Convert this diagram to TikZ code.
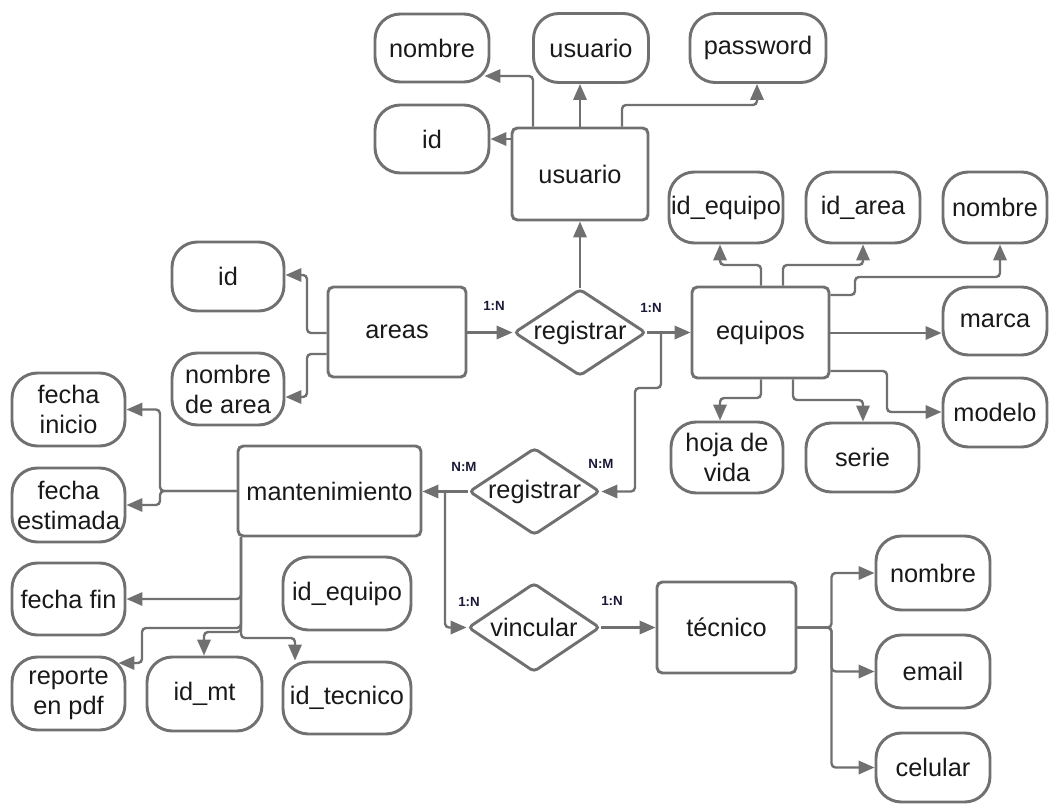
\documentclass[tikz,border=0pt]{standalone}
\usepackage{fontspec}
\setmainfont{Liberation Sans}
\usetikzlibrary{shapes.geometric,arrows.meta,calc}
\definecolor{lg}{RGB}{112,112,112}
\definecolor{lbl}{RGB}{25,25,55}
\definecolor{txt}{RGB}{25,25,25}
\begin{document}
\begin{tikzpicture}[x=0.75pt,y=-0.75pt,
  every node/.style={inner sep=0pt, align=center, font=\fontsize{19}{22.5}\selectfont, text=txt},
  sz/.style 2 args={minimum width=#1*0.75pt, minimum height=#2*0.75pt},
  attr/.style={draw=lg, line width=2.2pt, rounded corners=19pt},
  ent/.style={draw=lg, line width=2.2pt, rounded corners=4pt},
  rel/.style={draw=lg, line width=2.2pt, diamond, aspect=1.5, rounded corners=3pt},
  conn/.style={draw=lg, line width=1.8pt, rounded corners=3pt, -{Triangle[length=12pt,width=10pt]}},
  card/.style={font=\bfseries\fontsize{10}{12}\selectfont, text=lbl}]
\useasboundingbox (0,0) rectangle (1051,804);

% usuario
\node[ent, sz={136}{92}] (usuario) at (580,174) {usuario};
\node[attr, sz={114}{68}] (anombre) at (432,48) {nombre};
\node[attr, sz={115}{69}] (ausuario) at (591,48) {usuario};
\node[attr, sz={136}{69}] (apassword) at (758,48) {password};
\node[attr, sz={114}{68}] (aid) at (432,139) {id};

% equipos
\node[ent, sz={137}{91}] (equipos) at (760.5,332.5) {equipos};
\node[attr, sz={114}{71}] (aideq) at (726,207.5) {id\_equipo};
\node[attr, sz={114}{71}] (aidarea) at (863,207.5) {id\_area};
\node[attr, sz={104}{71}] (anombreq) at (995,207.5) {nombre};
\node[attr, sz={104}{68}] (amarca) at (995,321) {marca};
\node[attr, sz={104}{69}] (amodelo) at (995,412.5) {modelo};
\node[attr, sz={112}{71}] (ahoja) at (727,457.5) {hoja de\\vida};
\node[attr, sz={113}{69}] (aserie) at (862.5,457.5) {serie};

% areas
\node[ent, sz={138}{90}] (areas) at (397,332) {areas};
\node[attr, sz={112}{69}] (aidar) at (228,276.5) {id};
\node[attr, sz={112}{72}] (anomarea) at (228,389) {nombre\\de area};
\node[rel, sz={132}{87}] (reg1) at (580,332.5) {registrar};

% mantenimiento
\node[ent, sz={183}{90}] (mant) at (329.5,491) {mantenimiento};
\node[attr, sz={113}{73}] (afini) at (68.5,409.5) {fecha\\inicio};
\node[attr, sz={113}{74}] (afest) at (68.5,505) {fecha\\estimada};
\node[attr, sz={113}{72}] (affin) at (68.5,599) {fecha fin};
\node[attr, sz={113}{73}] (arep) at (68.5,693.5) {reporte\\en pdf};
\node[attr, sz={115}{74}] (aidmt) at (204.5,694) {id\_mt};
\node[attr, sz={128}{73}] (aideqm) at (347,593.5) {id\_equipo};
\node[attr, sz={128}{72}] (aidtec) at (347,698) {id\_tecnico};
\node[rel, sz={131}{87}] (reg2) at (534.5,491.5) {registrar};
\node[rel, sz={132}{89}] (vinc) at (534,627.5) {vincular};

% tecnico
\node[ent, sz={139}{91}] (tecnico) at (726.5,627.5) {técnico};
\node[attr, sz={114}{74}] (anomt) at (933,573) {nombre};
\node[attr, sz={114}{73}] (aemail) at (933,671.5) {email};
\node[attr, sz={114}{69}] (acel) at (933,767.5) {celular};

% connectors usuario
\draw[conn] (usuario.north -| 533,0) |- ($(anombre.east|-0,76)+(-6,0)$);
\draw[conn] (usuario.north -| 580,0) -- (ausuario.south -| 580,0);
\draw[conn] (usuario.north -| 622,0) |- (757,105) -- (apassword.south -| 757,0);
\draw[conn] (usuario.west |- aid) -- (aid.east);
\draw[conn] (reg1.north) -- (usuario.south);

% areas
\draw[conn] (areas.east |- reg1) -- (reg1.west);
\draw[conn] (reg1.east) -- (equipos.west |- reg1);
\draw[conn] (areas.west |- 0,333) -| (307,275) -- (aidar.east |- 0,275);
\draw[conn] (areas.west |- 0,354) -| (307,397) -- (anomarea.east |- 0,397);

% equipos
\draw[conn] (equipos.north -| 761,0) |- (720,265) -- (aideq.south -| 720,0);
\draw[conn] (equipos.north -| 783,0) |- (863,265) -- (aidarea.south);
\draw[conn] (equipos.east |- 0,295) -| (855,277) -| (anombreq.south -| 1000,0);
\draw[conn] (equipos.east |- 0,333) -- (amarca.west |- 0,333);
\draw[conn] (equipos.east |- 0,371) -| (887,412) -- (amodelo.west |- 0,412);
\draw[conn] (equipos.south -| 761,0) |- (720,398) -- (ahoja.north -| 720,0);
\draw[conn] (equipos.south -| 793,0) |- (863,400) -- (aserie.north -| 863,0);

% relations
\coordinate (j1) at (661,332.5);
\draw[conn] (j1) |- (635,388) |- (reg2.east);
\draw[conn] (reg2.west) -- (mant.east |- reg2.west);
\coordinate (j2) at (445,491.5);
\draw[conn] (j2) |- (vinc.west);
\draw[conn] (vinc.east) -- (tecnico.west |- vinc.east);

% tecnico attributes
\draw[conn] (tecnico.east) -| ($(anomt.west)+(-43,0)$) -- (anomt.west);
\draw[conn] (tecnico.east) -| ($(aemail.west)+(-43,0)$) -- (aemail.west);
\draw[conn] (tecnico.east) -| ($(acel.west)+(-43,0)$) -- (acel.west);

% mantenimiento attributes
\draw[conn] (mant.west) -| (160,409.5) -- (afini.east);
\draw[conn] (mant.west) -| (160,505) -- (afest.east);
\draw[conn] (mant.south -| 241,0) |- (affin.east);
\draw[conn] (mant.south -| 241,0) |- (142,628) -- (142,663) -- ($(arep.east|-0,663)+(-8,0)$);
\draw[conn] (mant.south -| 241,0) |- (204,632) -- (aidmt.north -| 204,0);
\draw[conn] (mant.south -| 241,0) |- (295,638) -- (aidtec.north -| 295,0);

% cardinalities
\node[card] (c1) at (494,306) {1:N};
\node[card] (c2) at (651,308) {1:N};
\node[card] (c3) at (464,467) {N:M};
\node[card] (c4) at (601,464) {N:M};
\node[card] (c5) at (469,602) {1:N};
\node[card] (c6) at (612,601) {1:N};
\end{tikzpicture}
\end{document}
